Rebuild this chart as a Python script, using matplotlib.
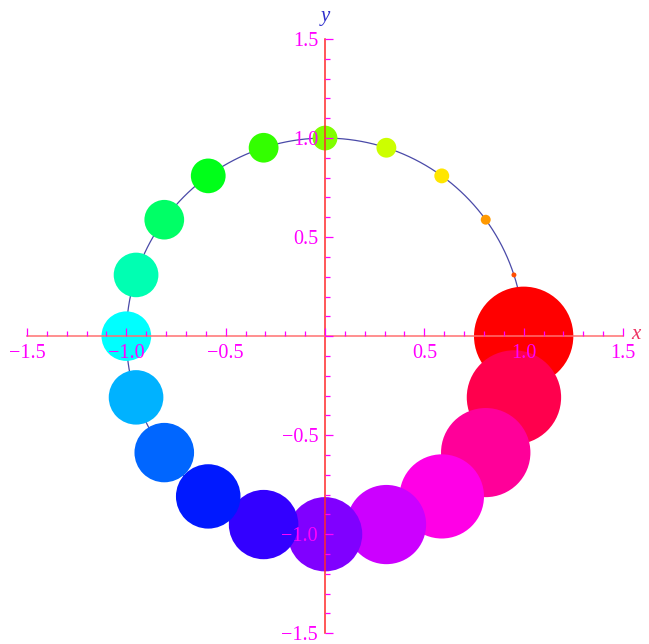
import numpy as np
import matplotlib.pyplot as plt
from matplotlib.patches import Circle
from matplotlib.colors import hsv_to_rgb
from matplotlib.ticker import MultipleLocator, FuncFormatter

# 20 discs placed clockwise on the unit circle, starting at angle 0
n_points = 20
step_index = np.arange(n_points)
angles_deg = -18.0 * step_index
hues = (1.0 - step_index / n_points) % 1.0
radii = 0.25 * (n_points - step_index) / n_points

fig = plt.figure(figsize=(6.49, 6.44), dpi=100)
ax = fig.add_axes([27 / 649, 10.7 / 644, 596 / 649, 594.3 / 644])
ax.set_xlim(-1.5, 1.5)
ax.set_ylim(-1.5, 1.5)

# thin circle behind the discs
t = np.linspace(0, 2 * np.pi, 400)
ax.plot(np.cos(t), np.sin(t), color="#4a4aa8", lw=0.9, zorder=1)

for a, h, r in zip(angles_deg, hues, radii):
    th = np.deg2rad(a)
    col = hsv_to_rgb([h, 1.0, 1.0])
    ax.add_patch(Circle((np.cos(th), np.sin(th)), r, facecolor=col,
                        edgecolor="none", zorder=2))

# axes crossing at the origin, drawn over the discs
ax.set_axisbelow(False)
for side in ["top", "right"]:
    ax.spines[side].set_visible(False)
for side, col in [("bottom", "#ff7070"), ("left", "#ff2a2a")]:
    sp = ax.spines[side]
    sp.set_position("zero")
    sp.set_color(col)
    sp.set_linewidth(1.1)
    sp.set_zorder(5)

ax.xaxis.set_major_locator(MultipleLocator(0.5))
ax.xaxis.set_minor_locator(MultipleLocator(0.1))
ax.yaxis.set_major_locator(MultipleLocator(0.5))
ax.yaxis.set_minor_locator(MultipleLocator(0.1))


def fmt(v, pos):
    if abs(v) < 1e-9:
        return ""
    s = "%.1f" % abs(v)
    return ("\u2212" + s) if v < 0 else s


ax.xaxis.set_major_formatter(FuncFormatter(fmt))
ax.yaxis.set_major_formatter(FuncFormatter(fmt))

ax.tick_params(which="both", direction="in", color="#ff00ff", width=0.9,
               labelcolor="#ff00ff", labelsize=14.5, zorder=6)
ax.tick_params(which="major", length=6)
ax.tick_params(which="minor", length=3.5)
ax.tick_params(axis="x", pad=6)
ax.tick_params(axis="y", pad=5)
for lab in ax.get_xticklabels() + ax.get_yticklabels():
    lab.set_fontfamily("Liberation Serif")
ax.xaxis.set_zorder(6)
ax.yaxis.set_zorder(6)

ax.text(1.54, 0.01, "x", color="#ee3060", fontsize=15, style="italic",
        family="Liberation Serif", ha="left", va="center")
ax.text(0.0, 1.565, "y", color="#3030cc", fontsize=15, style="italic",
        family="Liberation Serif", ha="center", va="bottom")

fig.savefig("out.png", dpi=100)
